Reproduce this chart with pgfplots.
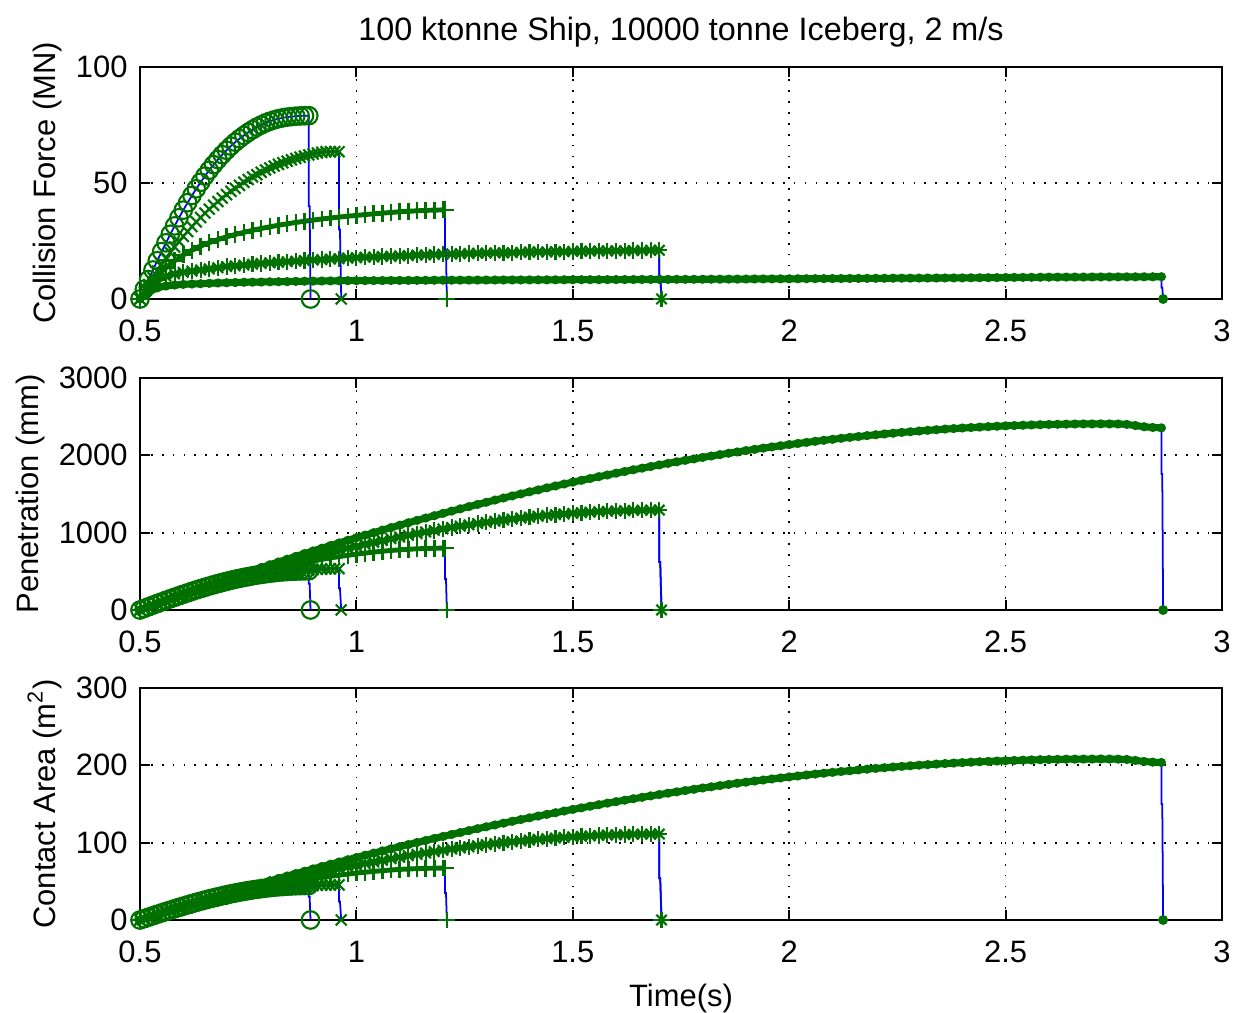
\documentclass[border=0pt]{standalone}
\usepackage{fontspec}
\setmainfont{Liberation Sans}
\usepackage{pgfplots}
\usepackage{pgfplotstable}
\pgfplotsset{compat=1.18}
\definecolor{mgreen}{RGB}{0,112,0}
\definecolor{mblue}{RGB}{0,0,255}

% ---------- series "o" ----------
\pgfplotstableread{
t F P A
0.50 0 0 0
0.51 4.2 21 1.8
0.52 8.4 42 3.7
0.53 12.5 63 5.5
0.54 16.5 84 7.4
0.55 20.4 104 9.2
0.56 24.2 125 11.0
0.57 27.9 145 12.7
0.58 31.5 165 14.5
0.59 35.0 184 16.2
0.60 38.3 203 17.9
0.61 41.5 222 19.6
0.62 44.6 241 21.2
0.63 47.5 259 22.8
0.64 50.3 276 24.3
0.65 53.0 293 25.8
0.66 55.5 310 27.3
0.67 57.9 326 28.7
0.68 60.1 341 30.0
0.69 62.2 356 31.3
0.70 64.1 370 32.6
0.71 65.9 384 33.8
0.72 67.6 397 34.9
0.73 69.1 409 36.0
0.74 70.5 421 37.0
0.75 71.8 431 38.0
0.76 73.0 442 38.9
0.77 74.1 451 39.7
0.78 75.0 460 40.5
0.79 75.9 468 41.2
0.80 76.6 475 41.8
0.81 77.2 482 42.4
0.82 77.7 488 42.9
0.83 78.1 493 43.3
0.84 78.4 497 43.7
0.85 78.6 500 44.0
0.86 78.8 503 44.3
0.87 78.9 505 44.4
0.88 79.0 506 44.5
0.89 79.0 507 44.6
}\dataO
\pgfplotstableread{
t F P A
0.890 79.0 507 44.6
0.890 40 340 30
0.892 40 340 30
0.894 0 0 0
}\dropO

% ---------- series "x" ----------
\pgfplotstableread{
t F P A
0.50 0 0 0
0.51 3.1 19 1.6
0.52 6.2 38 3.2
0.53 9.2 56 4.8
0.54 12.1 75 6.4
0.55 15.0 93 7.9
0.56 17.5 112 9.5
0.57 20.0 130 11.1
0.58 22.4 148 12.6
0.59 24.7 166 14.1
0.60 27.0 183 15.6
0.61 29.1 201 17.1
0.62 31.2 218 18.5
0.63 33.2 234 19.9
0.64 35.1 251 21.3
0.65 37.0 267 22.7
0.66 38.7 283 24.0
0.67 40.4 298 25.3
0.68 42.0 313 26.6
0.69 43.5 328 27.9
0.70 45.0 342 29.1
0.71 46.4 356 30.3
0.72 47.7 369 31.4
0.73 49.0 382 32.5
0.74 50.3 395 33.5
0.75 51.5 407 34.6
0.76 52.6 418 35.5
0.77 53.6 429 36.5
0.78 54.6 440 37.4
0.79 55.6 450 38.2
0.80 56.5 459 39.0
0.81 57.3 468 39.8
0.82 58.0 476 40.5
0.83 58.7 484 41.2
0.84 59.4 491 41.8
0.85 60.0 498 42.3
0.86 60.6 504 42.9
0.87 61.1 510 43.4
0.88 61.6 515 43.8
0.89 62.1 519 44.1
0.90 62.5 523 44.5
0.91 62.9 527 44.8
0.92 63.2 529 45.0
0.93 63.5 531 45.2
0.94 63.5 533 45.3
0.95 63.5 534 45.4
0.96 63.5 534 45.4
}\dataX
\pgfplotstableread{
t F P A
0.960 63.5 534 45.4
0.960 30 280 24
0.962 30 280 24
0.965 0 0 0
}\dropX

% ---------- series "+" ----------
\pgfplotstableread{
t F P A
0.50 0 0 0
0.52 6.0 39 3.3
0.54 10.0 77 6.5
0.56 13.5 115 9.7
0.58 16.5 153 12.9
0.60 19.0 190 16.0
0.62 21.0 227 19.0
0.64 22.8 262 22.0
0.66 24.3 297 24.9
0.68 25.6 331 27.8
0.70 26.8 364 30.6
0.72 27.8 396 33.2
0.74 28.7 427 35.8
0.76 29.6 457 38.3
0.78 30.4 485 40.8
0.80 31.1 513 43.1
0.82 31.8 539 45.3
0.84 32.4 565 47.4
0.86 33.0 589 49.5
0.88 33.5 612 51.4
0.90 34.0 633 53.2
0.92 34.5 654 54.9
0.94 34.9 673 56.5
0.96 35.3 691 58.0
0.98 35.7 707 59.4
1.00 36.0 722 60.7
1.02 36.4 736 61.8
1.04 36.7 749 62.9
1.06 37.0 760 63.8
1.08 37.3 770 64.7
1.10 37.6 778 65.4
1.12 37.8 785 66.0
1.14 38.0 791 66.4
1.16 38.2 795 66.8
1.18 38.3 798 67.0
1.20 38.4 800 67.2
1.205 38.4 800 67.2
}\dataP
\pgfplotstableread{
t F P A
1.205 38.4 800 67.2
1.205 20 400 35
1.207 20 400 35
1.209 0 0 0
}\dropP

% ---------- series "*" ----------
\pgfplotstableread{
t F P A
0.50 0 0 0
0.52 5.0 38 3.3
0.54 8.0 77 6.6
0.56 9.8 114 9.8
0.58 10.8 152 13.1
0.60 11.5 189 16.3
0.62 12.0 226 19.4
0.64 12.5 262 22.5
0.66 13.0 298 25.6
0.68 13.5 333 28.7
0.70 14.0 368 31.7
0.72 14.3 402 34.6
0.74 14.6 436 37.5
0.76 15.0 470 40.4
0.78 15.3 502 43.2
0.80 15.6 534 46.0
0.82 15.8 566 48.7
0.84 16.1 597 51.3
0.86 16.3 628 54.0
0.88 16.6 657 56.5
0.90 16.8 687 59.0
0.92 17.0 715 61.5
0.94 17.2 743 63.9
0.96 17.4 771 66.3
0.98 17.6 797 68.6
1.00 17.8 823 70.8
1.02 18.0 849 73.0
1.04 18.1 874 75.1
1.06 18.3 898 77.2
1.08 18.4 921 79.2
1.10 18.6 944 81.2
1.12 18.7 966 83.1
1.14 18.9 987 84.9
1.16 19.0 1008 86.7
1.18 19.2 1028 88.4
1.20 19.3 1048 90.1
1.22 19.4 1066 91.7
1.24 19.5 1084 93.2
1.26 19.6 1101 94.7
1.28 19.7 1118 96.1
1.30 19.8 1133 97.5
1.32 19.9 1148 98.8
1.34 19.9 1163 100.0
1.36 20.0 1176 101.2
1.38 20.1 1189 102.3
1.40 20.2 1201 103.3
1.42 20.3 1213 104.3
1.44 20.3 1223 105.2
1.46 20.4 1233 106.0
1.48 20.4 1242 106.8
1.50 20.5 1250 107.5
1.52 20.6 1258 108.2
1.54 20.6 1265 108.8
1.56 20.7 1271 109.3
1.58 20.7 1276 109.8
1.60 20.8 1281 110.2
1.62 20.8 1285 110.5
1.64 20.9 1288 110.8
1.66 20.9 1290 110.9
1.68 21.0 1292 111.1
1.70 21.0 1292 111.1
}\dataS
\pgfplotstableread{
t F P A
1.700 21.0 1292 111.1
1.700 10 620 54
1.702 10 620 54
1.705 0 0 0
}\dropS

% ---------- series "." ----------
\pgfplotstableread{
t F P A
0.50 0 0 0
0.52 3.0 41 3.5
0.54 4.8 81 7.0
0.56 5.6 122 10.5
0.58 6.0 162 14.0
0.60 6.3 202 17.5
0.62 6.45 242 20.9
0.64 6.6 281 24.3
0.66 6.75 320 27.7
0.68 6.9 359 31.0
0.70 7.0 397 34.4
0.72 7.1 435 37.7
0.74 7.2 473 40.9
0.76 7.25 511 44.2
0.78 7.3 548 47.4
0.80 7.4 585 50.6
0.82 7.45 621 53.7
0.84 7.5 657 56.9
0.86 7.6 693 60.0
0.88 7.65 729 63.0
0.90 7.7 764 66.1
0.92 7.75 799 69.1
0.94 7.8 833 72.1
0.96 7.85 867 75.0
0.98 7.9 901 77.9
1.00 7.9 935 80.8
1.02 7.92 968 83.7
1.04 7.94 1000 86.5
1.06 7.96 1033 89.3
1.08 7.98 1065 92.1
1.10 8.0 1096 94.8
1.12 8.02 1128 97.5
1.14 8.04 1159 100.2
1.16 8.06 1189 102.8
1.18 8.08 1219 105.5
1.20 8.1 1249 108.0
1.22 8.11 1279 110.6
1.24 8.13 1308 113.1
1.26 8.14 1337 115.6
1.28 8.15 1365 118.1
1.30 8.17 1393 120.5
1.32 8.18 1421 122.9
1.34 8.2 1448 125.2
1.36 8.21 1475 127.6
1.38 8.22 1501 129.9
1.40 8.23 1528 132.1
1.42 8.25 1553 134.4
1.44 8.26 1579 136.6
1.46 8.27 1604 138.7
1.48 8.29 1629 140.9
1.50 8.3 1653 143.0
1.52 8.31 1677 145.0
1.54 8.33 1700 147.1
1.56 8.34 1724 149.1
1.58 8.35 1746 151.1
1.60 8.37 1769 153.0
1.62 8.38 1791 154.9
1.64 8.39 1813 156.8
1.66 8.41 1834 158.6
1.68 8.42 1855 160.5
1.70 8.43 1876 162.2
1.72 8.45 1896 164.0
1.74 8.46 1916 165.7
1.76 8.47 1935 167.4
1.78 8.49 1954 169.0
1.80 8.5 1973 170.7
1.82 8.52 1991 172.2
1.84 8.54 2009 173.8
1.86 8.56 2027 175.3
1.88 8.58 2044 176.8
1.90 8.6 2061 178.2
1.92 8.62 2077 179.7
1.94 8.64 2093 181.0
1.96 8.66 2109 182.4
1.98 8.68 2124 183.7
2.00 8.7 2139 185.0
2.02 8.72 2153 186.2
2.04 8.74 2167 187.5
2.06 8.76 2181 188.7
2.08 8.78 2194 189.8
2.10 8.8 2207 190.9
2.12 8.82 2220 192.0
2.14 8.84 2232 193.0
2.16 8.86 2243 194.1
2.18 8.88 2255 195.0
2.20 8.9 2266 196.0
2.22 8.92 2276 196.9
2.24 8.94 2286 197.8
2.26 8.96 2296 198.6
2.28 8.98 2305 199.4
2.30 9.0 2314 200.2
2.32 9.02 2323 200.9
2.34 9.04 2331 201.6
2.36 9.06 2339 202.3
2.38 9.08 2346 202.9
2.40 9.1 2353 203.5
2.42 9.13 2359 204.1
2.44 9.16 2365 204.6
2.46 9.19 2371 205.1
2.48 9.22 2376 205.5
2.50 9.25 2381 205.9
2.52 9.28 2385 206.3
2.54 9.31 2389 206.7
2.56 9.34 2393 207.0
2.58 9.37 2396 207.3
2.60 9.4 2399 207.5
2.62 9.42 2401 207.7
2.64 9.43 2403 207.9
2.66 9.45 2405 208.0
2.68 9.46 2406 208.1
2.70 9.48 2406 208.1
2.72 9.49 2407 208.2
2.74 9.51 2406 208.1
2.76 9.52 2405 208.0
2.78 9.54 2400 207.6
2.80 9.55 2385 206.3
2.82 9.57 2370 205.0
2.84 9.58 2360 204.1
2.86 9.6 2355 203.7
}\dataD
\pgfplotstableread{
t F P A
2.860 9.6 2355 203.7
2.860 5 1760 150
2.862 5 1760 150
2.864 0 0 0
}\dropD

\newcommand{\drop}[3]{% table, column, mark options
  \addplot[mblue, line width=0.5pt] table[x=t,y=#2]{#1};
  \addplot[only marks, mgreen, #3, mark options={line width=0.6pt}, skip coords between index={0}{3}] table[x=t,y=#2]{#1};
}
\newcommand{\plotall}[1]{%
  % "." series
  \addplot[mgreen, line width=2pt] table[x=t,y=#1]{\dataD};
  \addplot[only marks, mgreen, mark=*, mark size=1.1pt] table[x=t,y=#1]{\dataD};
  \drop{\dropD}{#1}{mark=*, mark size=1.1pt}
  % "*" series
  \addplot[mgreen, line width=1.4pt] table[x=t,y=#1]{\dataS};
  \addplot[only marks, mgreen, mark=+, mark size=2.3pt, mark options={line width=0.6pt}] table[x=t,y=#1]{\dataS};
  \addplot[only marks, mgreen, mark=x, mark size=2.1pt, mark options={line width=0.6pt}] table[x=t,y=#1]{\dataS};
  \drop{\dropS}{#1}{mark=+, mark size=2.3pt}
  \drop{\dropS}{#1}{mark=x, mark size=2.1pt}
  % "+" series
  \addplot[mgreen, line width=1.4pt] table[x=t,y=#1]{\dataP};
  \addplot[only marks, mgreen, mark=+, mark size=2.4pt, mark options={line width=0.7pt}] table[x=t,y=#1]{\dataP};
  \drop{\dropP}{#1}{mark=+, mark size=2.4pt}
  % "x" series
  \addplot[mblue, line width=0.5pt] table[x=t,y=#1]{\dataX};
  \addplot[only marks, mgreen, mark=x, mark size=2.2pt, mark options={line width=0.6pt}] table[x=t,y=#1]{\dataX};
  \drop{\dropX}{#1}{mark=x, mark size=2.2pt}
  % "o" series
  \addplot[mblue, line width=0.5pt] table[x=t,y=#1]{\dataO};
  \addplot[only marks, mgreen, mark=o, mark size=2.5pt, mark options={line width=0.6pt}] table[x=t,y=#1]{\dataO};
  \drop{\dropO}{#1}{mark=o, mark size=2.5pt}
}

\pgfplotsset{
  panel/.style={
    scale only axis, width=10.82cm, height=2.32cm,
    xmin=0.5, xmax=3, xtick={0.5,1,1.5,2,2.5,3},
    grid=major,
    grid style={black, line width=0.5pt, dash pattern=on 0.5pt off 2.6pt},
    tick align=inside, major tick length=0.1cm,
    tick style={black, line width=0.6pt},
    axis line style={black, line width=0.6pt},
    clip=false,
    ticklabel style={font=\fontsize{8.8}{10}\selectfont},
    label style={font=\fontsize{8.8}{10}\selectfont},
    ylabel style={yshift=-3pt},
    xlabel style={yshift=1pt},
    title style={font=\fontsize{9.2}{11}\selectfont, yshift=-4pt},
    /pgf/number format/assume math mode=true,
    /pgf/number format/1000 sep={},
    scaled ticks=false,
    xticklabel style={yshift=-2.5pt},
  },
}

\begin{document}
\begin{tikzpicture}
\path[use as bounding box] (-1.40cm,-0.93cm) rectangle (11.03cm,9.20cm);
\begin{axis}[panel, at={(0cm,6.21cm)},
  ymin=0, ymax=100, ytick={0,50,100},
  ylabel={Collision Force (MN)},
  title={100 ktonne Ship, 10000 tonne Iceberg, 2 m/s}]
\plotall{F}
\end{axis}
\begin{axis}[panel, at={(0cm,3.10cm)},
  ymin=0, ymax=3000, ytick={0,1000,2000,3000},
  ylabel={Penetration (mm)}]
\plotall{P}
\end{axis}
\begin{axis}[panel, at={(0cm,0cm)},
  ymin=0, ymax=300, ytick={0,100,200,300},
  ylabel={Contact Area (m\textsuperscript{2})},
  xlabel={Time(s)}]
\plotall{A}
\end{axis}
\end{tikzpicture}
\end{document}
